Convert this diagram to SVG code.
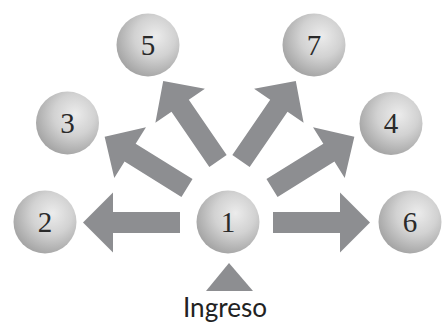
<svg xmlns="http://www.w3.org/2000/svg" width="444" height="328" viewBox="0 0 444 328">
  <defs>
    <radialGradient id="ball" cx="0.6" cy="0.38" r="0.65" fx="0.62" fy="0.36">
      <stop offset="0" stop-color="#ececec"/>
      <stop offset="0.5" stop-color="#d2d2d2"/>
      <stop offset="1" stop-color="#a4a4a4"/>
    </radialGradient>
    <path id="arrow" d="M0,-10.5 L67,-10.5 L67,-30 L97,0 L67,30 L67,10.5 L0,10.5 Z"/>
  </defs>
  <style>
    .ball { fill: url(#ball); }
    .num { font-family: "Liberation Serif", "DejaVu Serif", serif; font-size: 29px; fill: #2a2a2a; text-anchor: middle; }
    .arr { fill: #8d8e91; }
    .label { font-family: "Lato", "Open Sans", "Liberation Sans", sans-serif; font-size: 26px; fill: #222; }
  </style>
  <rect width="444" height="328" fill="#ffffff"/>

  <g id="connectors" class="arr">
    <use href="#arrow" transform="translate(180,222.5) rotate(180)"/>
    <use href="#arrow" transform="translate(273,222.5)"/>
    <use href="#arrow" transform="translate(187,188) rotate(-148.1)"/>
    <use href="#arrow" transform="translate(218,161) rotate(-124.4)"/>
    <use href="#arrow" transform="translate(241,161) rotate(-55.6)"/>
    <use href="#arrow" transform="translate(272,188) rotate(-31.9)"/>
  </g>

  <g id="node1"><circle class="ball" cx="228" cy="222" r="31.5"/><text class="num" x="228" y="231.5">1</text></g>
  <g id="node2"><circle class="ball" cx="45" cy="222" r="31.5"/><text class="num" x="45" y="231.5">2</text></g>
  <g id="node3"><circle class="ball" cx="67.5" cy="123" r="31.5"/><text class="num" x="67.5" y="132.5">3</text></g>
  <g id="node4"><circle class="ball" cx="391" cy="123.5" r="31.5"/><text class="num" x="391" y="133">4</text></g>
  <g id="node5"><circle class="ball" cx="148" cy="45" r="31.5"/><text class="num" x="148" y="54.5">5</text></g>
  <g id="node6"><circle class="ball" cx="410" cy="222" r="31.5"/><text class="num" x="410" y="231.5">6</text></g>
  <g id="node7"><circle class="ball" cx="314" cy="45" r="31.5"/><text class="num" x="314" y="54.5">7</text></g>

  <g id="ingreso">
    <polygon class="arr" points="229,263 206,291 253,291"/>
    <text class="label" x="183" y="317" textLength="84" lengthAdjust="spacingAndGlyphs">Ingreso</text>
  </g>
</svg>
